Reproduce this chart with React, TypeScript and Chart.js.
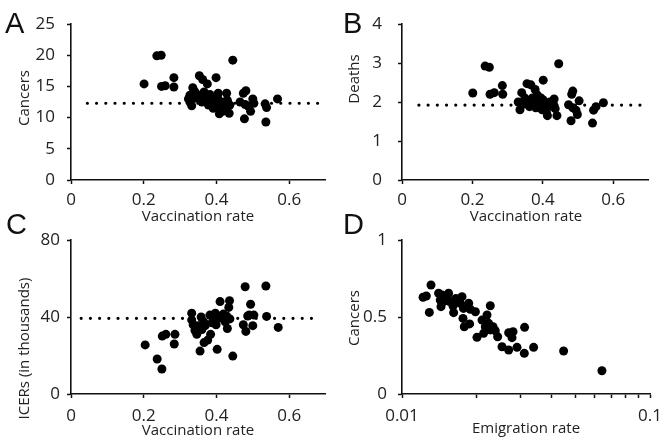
import { useEffect, useRef } from "react";
import { Chart, registerables } from "chart.js";

Chart.register(...registerables);

// ---------- DATA ----------
// Panel A: vaccination rate vs cancers
const vaccA = [0.201, 0.236, 0.248, 0.249, 0.259, 0.283, 0.283, 0.323, 0.327, 0.327, 0.332, 0.335, 0.338, 0.341, 0.346, 0.353, 0.355, 0.36, 0.362, 0.366, 0.371, 0.375, 0.378, 0.382, 0.387, 0.391, 0.396, 0.399, 0.403, 0.405, 0.408, 0.41, 0.417, 0.417, 0.424, 0.428, 0.43, 0.435, 0.437, 0.445, 0.465, 0.474, 0.477, 0.479, 0.481, 0.488, 0.494, 0.5, 0.503, 0.534, 0.536, 0.538, 0.568];
const cancersA = [15.4, 19.9, 20.0, 15.0, 15.1, 16.4, 14.9, 13.0, 13.6, 12.5, 11.9, 14.8, 14.3, 14.1, 13.1, 16.7, 13.6, 12.5, 16.1, 14.1, 13.2, 15.4, 12.0, 13.7, 12.7, 11.5, 12.3, 16.4, 13.2, 13.9, 10.6, 11.8, 12.5, 11.0, 11.3, 13.9, 12.8, 10.7, 12.0, 19.2, 12.5, 13.9, 9.8, 12.1, 14.3, 11.8, 11.0, 13.0, 12.3, 12.2, 9.3, 11.6, 13.0];
const meanA = 12.3;

// Panel B: vaccination rate vs deaths
const vaccB = [0.201, 0.236, 0.248, 0.25, 0.262, 0.285, 0.286, 0.33, 0.335, 0.34, 0.345, 0.349, 0.355, 0.356, 0.359, 0.362, 0.366, 0.37, 0.373, 0.378, 0.38, 0.384, 0.388, 0.392, 0.395, 0.398, 0.401, 0.401, 0.406, 0.41, 0.413, 0.415, 0.42, 0.425, 0.43, 0.432, 0.435, 0.44, 0.445, 0.473, 0.48, 0.482, 0.485, 0.485, 0.494, 0.498, 0.503, 0.541, 0.544, 0.551, 0.572];
const deathsB = [2.23, 2.92, 2.89, 2.2, 2.24, 2.42, 2.2, 2.0, 1.8, 2.24, 1.95, 2.1, 2.47, 2.0, 1.97, 1.88, 2.44, 2.1, 2.05, 2.32, 1.85, 2.18, 1.9, 1.95, 2.1, 1.8, 2.56, 2.05, 1.84, 1.75, 1.65, 1.9, 2.0, 1.9, 1.95, 2.08, 1.83, 1.65, 2.98, 1.93, 1.52, 2.2, 2.28, 1.85, 1.79, 1.68, 2.03, 1.46, 1.79, 1.88, 1.98];
const meanB = 1.92;

// Panel C: vaccination rate vs ICERs (thousands)
const vaccC = [0.204, 0.237, 0.25, 0.251, 0.261, 0.284, 0.286, 0.332, 0.332, 0.336, 0.341, 0.346, 0.35, 0.355, 0.358, 0.36, 0.365, 0.366, 0.369, 0.376, 0.382, 0.384, 0.388, 0.392, 0.397, 0.399, 0.402, 0.405, 0.41, 0.41, 0.419, 0.424, 0.428, 0.43, 0.434, 0.436, 0.437, 0.445, 0.474, 0.479, 0.481, 0.486, 0.49, 0.494, 0.5, 0.503, 0.536, 0.538, 0.57];
const icersC = [25.5, 18.2, 13.0, 30.1, 31.0, 26.0, 31.0, 42.0, 38.5, 36.0, 33.0, 31.0, 35.5, 22.3, 40.0, 33.5, 37.5, 26.7, 35.5, 28.0, 41.0, 31.0, 37.0, 39.5, 42.0, 36.0, 23.2, 40.5, 48.0, 39.5, 41.5, 37.5, 40.5, 34.0, 45.0, 48.5, 39.0, 19.7, 36.0, 55.7, 32.5, 40.5, 41.0, 46.6, 35.5, 41.0, 56.1, 40.3, 34.6];
const meanC = 39.3;

// Panel D: emigration rate vs cancers
const emigD = [0.01216, 0.01253, 0.01289, 0.01309, 0.01405, 0.01426, 0.01436, 0.01449, 0.01472, 0.01541, 0.0152, 0.01556, 0.01606, 0.01615, 0.0165, 0.01746, 0.01718, 0.0177, 0.01762, 0.01783, 0.01857, 0.01884, 0.01874, 0.01977, 0.02006, 0.02102, 0.02133, 0.02167, 0.02202, 0.02235, 0.0227, 0.0227, 0.02328, 0.02378, 0.0243, 0.02531, 0.02692, 0.02692, 0.02777, 0.02804, 0.02909, 0.03113, 0.03121, 0.03394, 0.04484, 0.064];
const cancersD = [0.628, 0.636, 0.53, 0.708, 0.654, 0.61, 0.567, 0.643, 0.6, 0.654, 0.625, 0.6, 0.571, 0.528, 0.62, 0.632, 0.589, 0.556, 0.491, 0.437, 0.589, 0.55, 0.455, 0.534, 0.368, 0.48, 0.394, 0.437, 0.513, 0.459, 0.573, 0.416, 0.437, 0.411, 0.372, 0.307, 0.398, 0.286, 0.366, 0.405, 0.303, 0.264, 0.433, 0.303, 0.279, 0.151];

// Tick values
const vaccTicks = [0, 0.2, 0.4, 0.6];
const cancersTicks = [0, 5, 10, 15, 20, 25];
const deathsTicks = [0, 1, 2, 3, 4];
const icersTicks = [0, 40, 80];
const cancersDTicks = [0, 0.5, 1];
const emigTicks = [0.01, 0.02, 0.03, 0.04, 0.05, 0.06, 0.07, 0.08, 0.09, 0.1];
const emigLabels = ["0.01", "0.1"];

const FONT = '"Open Sans", sans-serif';
const INK = "#111";
const TXT = "#222";

type PanelText = {
  letter: string;
  letterX: number;
  letterY: number;
  yTitle: string;
  yTitleX: number;
  yTitleY: number;
  xTitle: string;
  xTitleX: number;
  xTitleY: number;
};

const textPlugin = {
  id: "panelText",
  afterDraw(chart: any) {
    const o: PanelText = chart.options.plugins.panelText;
    if (!o) return;
    const ctx = chart.ctx;
    ctx.save();
    ctx.fillStyle = INK;
    ctx.font = '29px "Liberation Sans", Arial, sans-serif';
    ctx.textAlign = "left";
    ctx.textBaseline = "alphabetic";
    ctx.fillText(o.letter, o.letterX, o.letterY);
    ctx.fillStyle = TXT;
    ctx.font = "15px " + FONT;
    ctx.textAlign = "center";
    ctx.textBaseline = "middle";
    ctx.fillText(o.xTitle, o.xTitleX, o.xTitleY);
    ctx.translate(o.yTitleX, o.yTitleY);
    ctx.rotate(-Math.PI / 2);
    ctx.fillText(o.yTitle, 0, 0);
    ctx.restore();
  },
};

type PanelDef = {
  left: number;
  top: number;
  w: number;
  h: number;
  pad: { top: number; right: number };
  yWidth: number;
  xHeight: number;
  xs: number[];
  ys: number[];
  mean?: number;
  meanFrom?: number;
  meanTo?: number;
  xType: "linear" | "logarithmic";
  xMin: number;
  xMax: number;
  xTicks: number[];
  xLabels?: string[];
  xPad: number;
  yMin: number;
  yMax: number;
  yTicks: number[];
  yPad: number;
  text: PanelText;
};

const panels: PanelDef[] = [
  {
    left: 0, top: 0, w: 330, h: 225, pad: { top: 24, right: 4.5 }, yWidth: 71, xHeight: 45,
    xs: vaccA, ys: cancersA, mean: meanA, meanFrom: 0.045, meanTo: 0.69,
    xType: "linear", xMin: 0, xMax: 0.7, xTicks: vaccTicks, xPad: 6,
    yMin: 0, yMax: 25, yTicks: cancersTicks, yPad: 12,
    text: { letter: "A", letterX: 5, letterY: 33, yTitle: "Cancers", yTitleX: 25, yTitleY: 98, xTitle: "Vaccination rate", xTitleX: 198, xTitleY: 216.5 },
  },
  {
    left: 330, top: 0, w: 331, h: 225, pad: { top: 24, right: 12.5 }, yWidth: 72, xHeight: 45,
    xs: vaccB, ys: deathsB, mean: meanB, meanFrom: 0.048, meanTo: 0.68,
    xType: "linear", xMin: 0, xMax: 0.7, xTicks: vaccTicks, xPad: 6,
    yMin: 0, yMax: 4, yTicks: deathsTicks, yPad: 16,
    text: { letter: "B", letterX: 13, letterY: 33, yTitle: "Deaths", yTitleX: 25, yTitleY: 79, xTitle: "Vaccination rate", xTitleX: 196, xTitleY: 216.5 },
  },
  {
    left: 0, top: 205, w: 330, h: 236, pad: { top: 35, right: 4.5 }, yWidth: 71, xHeight: 47,
    xs: vaccC, ys: icersC, mean: meanC, meanFrom: 0.028, meanTo: 0.685,
    xType: "linear", xMin: 0, xMax: 0.7, xTicks: vaccTicks, xPad: 8,
    yMin: 0, yMax: 80, yTicks: icersTicks, yPad: 7,
    text: { letter: "C", letterX: 6, letterY: 29, yTitle: "ICERs (in thousands)", yTitleX: 25, yTitleY: 143.5, xTitle: "Vaccination rate", xTitleX: 198, xTitleY: 226 },
  },
  {
    left: 330, top: 205, w: 331, h: 236, pad: { top: 35, right: 11 }, yWidth: 72, xHeight: 47,
    xs: emigD, ys: cancersD,
    xType: "logarithmic", xMin: 0.01, xMax: 0.1, xTicks: emigTicks, xLabels: emigLabels, xPad: 8,
    yMin: 0, yMax: 1, yTicks: cancersDTicks, yPad: 11,
    text: { letter: "D", letterX: 13, letterY: 29, yTitle: "Cancers", yTitleX: 25, yTitleY: 113, xTitle: "Emigration rate", xTitleX: 196, xTitleY: 224 },
  },
];

function makeConfig(p: PanelDef): any {
  const points = p.xs.map((x, i) => ({ x, y: p.ys[i] }));
  const datasets: any[] = [
    {
      data: points,
      backgroundColor: "#000",
      borderColor: "#000",
      borderWidth: 0,
      pointRadius: 4.5,
      pointHoverRadius: 4.5,
    },
  ];
  if (p.mean !== undefined) {
    datasets.push({
      data: [
        { x: p.meanFrom, y: p.mean },
        { x: p.meanTo, y: p.mean },
      ],
      showLine: true,
      borderColor: "#000",
      borderWidth: 3.2,
      borderDash: [0.01, 9.2],
      borderCapStyle: "round",
      pointRadius: 0,
      fill: false,
    });
  }
  const grid = {
    display: true,
    drawOnChartArea: false,
    drawTicks: true,
    tickLength: 4,
    tickWidth: 1.5,
    tickColor: INK,
  };
  const border = { display: true, color: INK, width: 1.6 };
  const tickFont = { family: FONT, size: 17 };
  return {
    type: "scatter",
    data: { datasets },
    plugins: [textPlugin],
    options: {
      animation: false,
      responsive: false,
      maintainAspectRatio: false,
      events: [],
      layout: { padding: { left: 0, top: p.pad.top, right: p.pad.right, bottom: 0 } },
      plugins: {
        legend: { display: false },
        tooltip: { enabled: false },
        panelText: p.text,
      },
      scales: {
        x: {
          type: p.xType,
          min: p.xMin,
          max: p.xMax,
          grid,
          border,
          afterBuildTicks: (s: any) => {
            s.ticks = p.xTicks.map((v) => ({ value: v }));
          },
          afterFit: (s: any) => {
            s.height = p.xHeight;
            s.paddingLeft = 0;
            s.paddingRight = 0;
          },
          ticks: {
            autoSkip: false,
            maxRotation: 0,
            padding: p.xPad,
            color: TXT,
            font: tickFont,
            callback: (v: number) => {
              if (p.xLabels) {
                if (Math.abs(v - 0.01) < 1e-9) return p.xLabels[0];
                if (Math.abs(v - 0.1) < 1e-9) return p.xLabels[1];
                return "";
              }
              return String(Math.round(v * 100) / 100);
            },
          },
          title: { display: false },
        },
        y: {
          type: "linear",
          min: p.yMin,
          max: p.yMax,
          grid,
          border,
          afterBuildTicks: (s: any) => {
            s.ticks = p.yTicks.map((v) => ({ value: v }));
          },
          afterFit: (s: any) => {
            s.width = p.yWidth;
            s.paddingTop = 0;
            s.paddingBottom = 0;
          },
          ticks: {
            autoSkip: false,
            padding: p.yPad,
            color: TXT,
            font: tickFont,
            callback: (v: number) => String(Math.round(v * 100) / 100),
          },
          title: { display: false },
        },
      },
    },
  };
}

function Panel({ p }: { p: PanelDef }) {
  const ref = useRef<HTMLCanvasElement | null>(null);
  useEffect(() => {
    if (!ref.current) return;
    const chart = new Chart(ref.current, makeConfig(p));
    return () => chart.destroy();
  }, [p]);
  return (
    <canvas
      ref={ref}
      width={p.w}
      height={p.h}
      style={{ position: "absolute", left: p.left, top: p.top, width: p.w, height: p.h, display: "block" }}
    />
  );
}

export default function App() {
  return (
    <div
      style={{
        position: "fixed",
        left: 0,
        top: 0,
        width: 661,
        height: 441,
        overflow: "hidden",
        background: "#fff",
      }}
    >
      {panels.map((p, i) => (
        <Panel key={i} p={p} />
      ))}
    </div>
  );
}
